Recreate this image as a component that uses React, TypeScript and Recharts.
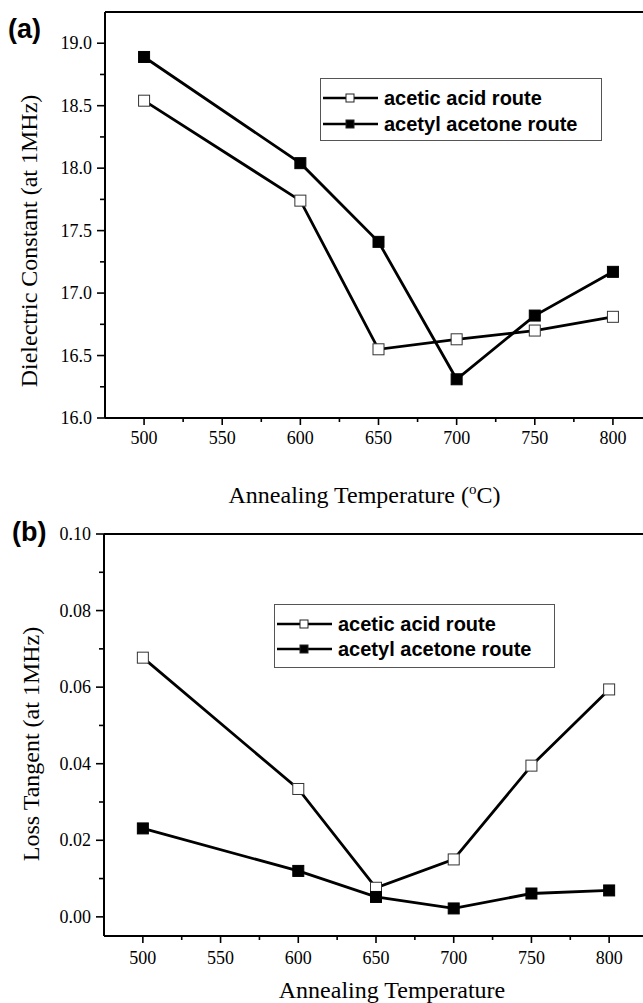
import React from 'react';
import { LineChart, Line, XAxis, YAxis, Legend, ReferenceLine } from 'recharts';

const temperatures = [500, 600, 650, 700, 750, 800];
const dielectricAceticAcid = [18.54, 17.74, 16.55, 16.63, 16.70, 16.81];
const dielectricAcetylAcetone = [18.89, 18.04, 17.41, 16.31, 16.82, 17.17];
const lossAceticAcid = [0.0677, 0.0334, 0.0076, 0.0150, 0.0395, 0.0594];
const lossAcetylAcetone = [0.0231, 0.0120, 0.0052, 0.0022, 0.0061, 0.0069];

const xTicks = [500, 525, 550, 575, 600, 625, 650, 675, 700, 725, 750, 775, 800];
const yTicksA = [16, 16.25, 16.5, 16.75, 17, 17.25, 17.5, 17.75, 18, 18.25, 18.5, 18.75, 19];
const yTicksB = [0, 0.01, 0.02, 0.03, 0.04, 0.05, 0.06, 0.07, 0.08, 0.09, 0.1];

const seriesNames = ['acetic acid route', 'acetyl acetone route'];

const dataA = temperatures.map((t, i) => ({ t, acetic: dielectricAceticAcid[i], acetyl: dielectricAcetylAcetone[i] }));
const dataB = temperatures.map((t, i) => ({ t, acetic: lossAceticAcid[i], acetyl: lossAcetylAcetone[i] }));

const SERIF = '"Liberation Serif", "Times New Roman", serif';
const SANS = '"Liberation Sans", Arial, sans-serif';

const makeXTick = (labelDy: number) => (props: any) => {
  const { x, y, payload } = props;
  const v = payload.value;
  const major = v % 50 === 0;
  return (
    <g>
      <line x1={x} x2={x} y1={y} y2={y + (major ? 7 : 4)} stroke="#000" strokeWidth={1.6} />
      {major && (
        <text
          x={x}
          y={y + labelDy}
          textAnchor="middle"
          dominantBaseline="central"
          fontFamily={SERIF}
          style={{ fontFamily: SERIF, fontSize: 18 }}
          fontSize={18}
          fill="#000"
        >
          {v}
        </text>
      )}
    </g>
  );
};

const makeYTick = (isMajor: (v: number) => boolean, digits: number) => (props: any) => {
  const { x, y, payload } = props;
  const v = payload.value;
  const major = isMajor(v);
  return (
    <g>
      <line x1={x - (major ? 8 : 5)} x2={x} y1={y} y2={y} stroke="#000" strokeWidth={1.6} />
      {major && (
        <text
          x={x - 13}
          y={y}
          textAnchor="end"
          dominantBaseline="central"
          fontFamily={SERIF}
          style={{ fontFamily: SERIF, fontSize: 18 }}
          fontSize={18}
          fill="#000"
        >
          {v.toFixed(digits)}
        </text>
      )}
    </g>
  );
};

const squareDot = (filled: boolean, size: number) => (props: any) => {
  const { cx, cy, index } = props;
  if (cx == null || cy == null) return <g key={`d${index}`} />;
  return (
    <rect
      key={`d${index}`}
      x={cx - size / 2}
      y={cy - size / 2}
      width={size}
      height={size}
      fill={filled ? '#000' : '#fff'}
      stroke={filled ? '#000' : '#333'}
      strokeWidth={1}
    />
  );
};

const LegendBox = ({ rowGap }: { rowGap: number }) => (
  <div
    style={{
      border: '1px solid #555',
      boxSizing: 'border-box',
      width: '100%',
      height: '100%',
      paddingTop: 6,
      background: '#fff',
    }}
  >
    {seriesNames.map((name, i) => (
      <div key={name} style={{ display: 'flex', alignItems: 'center', height: rowGap, marginLeft: 2 }}>
        <svg width={58} height={14} style={{ display: 'block' }}>
          <line x1={0} x2={55} y1={7} y2={7} stroke="#000" strokeWidth={2.6} />
          <rect x={23} y={3} width={8} height={8} fill={i === 0 ? '#fff' : '#000'} stroke="#222" strokeWidth={1} />
        </svg>
        <span style={{ fontFamily: SANS, fontWeight: 'bold', fontSize: 20, lineHeight: '20px', color: '#000', marginLeft: 3 }}>
          {name}
        </span>
      </div>
    ))}
  </div>
);

const yLabel = (text: string, dxFromAxis: number, dyFromCenter: number) => (p: any) => {
  const vb = p.viewBox || {};
  const axisX = (vb.x ?? 45) + (vb.width ?? 60);
  const cx = axisX - dxFromAxis;
  const cy = (vb.y ?? 0) + (vb.height ?? 0) / 2 + dyFromCenter;
  return (
    <text
      x={cx}
      y={cy}
      transform={`rotate(-90, ${cx}, ${cy})`}
      textAnchor="middle"
      dominantBaseline="central"
      fontFamily={SERIF}
      style={{ fontFamily: SERIF, fontSize: 24 }}
      fontSize={24}
      fill="#000"
    >
      {text}
    </text>
  );
};

const xLabel = (withUnit: boolean, dxFromCenter: number, baselineBelowAxis: number) => (p: any) => {
  const vb = p.viewBox || {};
  const cx = (vb.x ?? 0) + (vb.width ?? 0) / 2 + dxFromCenter;
  const y = (vb.y ?? 0) + baselineBelowAxis;
  return (
    <text x={cx} y={y} textAnchor="middle" fontFamily={SERIF} style={{ fontFamily: SERIF, fontSize: 24 }} fontSize={24} fill="#000">
      {withUnit ? (
        <>
          Annealing Temperature (
          <tspan dy={-9} fontSize={15}>o</tspan>
          <tspan dy={9}>C)</tspan>
        </>
      ) : (
        'Annealing Temperature'
      )}
    </text>
  );
};

export default function App() {
  return (
    <div style={{ position: 'absolute', left: 0, top: 0, width: 643, height: 1003, overflow: 'hidden', background: '#fff' }}>
      <div style={{ position: 'absolute', left: 8, top: 14, fontFamily: SANS, fontWeight: 'bold', fontSize: 27, lineHeight: '30px' }}>(a)</div>
      <div style={{ position: 'absolute', left: 12, top: 517, fontFamily: SANS, fontWeight: 'bold', fontSize: 27, lineHeight: '30px' }}>(b)</div>

      <div style={{ position: 'absolute', left: 0, top: 0 }}>
        <LineChart width={700} height={520} data={dataA} margin={{ top: 12, right: 48, bottom: 72, left: 45 }}>
          <XAxis
            dataKey="t"
            type="number"
            domain={[475, 825]}
            ticks={xTicks}
            interval={0}
            height={30}
            tickSize={0}
            tickMargin={0}
            tickLine={false}
            axisLine={{ stroke: '#000', strokeWidth: 2 }}
            tick={makeXTick(20)}
            label={xLabel(true, -14, 85)}
          />
          <YAxis
            type="number"
            domain={[16, 19.25]}
            ticks={yTicksA}
            interval={0}
            width={60}
            tickSize={0}
            tickMargin={0}
            tickLine={false}
            axisLine={{ stroke: '#000', strokeWidth: 2 }}
            tick={makeYTick((v) => Math.abs(v * 2 - Math.round(v * 2)) < 1e-6, 1)}
            label={yLabel('Dielectric Constant (at 1MHz)', 76, 26)}
          />
          <ReferenceLine y={19.25} stroke="#000" strokeWidth={2} />
          <Legend
            layout="horizontal"
            verticalAlign="middle"
            align="center"
            content={() => <LegendBox rowGap={26} />}
            wrapperStyle={{ left: 320, top: 78, width: 282, height: 63, margin: 0, padding: 0 }}
          />
          <Line type="linear" dataKey="acetic" name={seriesNames[0]} stroke="#000" strokeWidth={2.8} dot={squareDot(false, 11)} isAnimationActive={false} />
          <Line type="linear" dataKey="acetyl" name={seriesNames[1]} stroke="#000" strokeWidth={2.8} dot={squareDot(true, 11)} isAnimationActive={false} />
        </LineChart>
      </div>

      <div style={{ position: 'absolute', left: 0, top: 460 }}>
        <LineChart width={700} height={543} data={dataB} margin={{ top: 74, right: 52, bottom: 37, left: 44 }}>
          <XAxis
            dataKey="t"
            type="number"
            domain={[475, 825]}
            ticks={xTicks}
            interval={0}
            height={30}
            tickSize={0}
            tickMargin={0}
            tickLine={false}
            axisLine={{ stroke: '#000', strokeWidth: 2 }}
            tick={makeXTick(22)}
            label={xLabel(false, 16, 62)}
          />
          <YAxis
            type="number"
            domain={[-0.005, 0.1]}
            ticks={yTicksB}
            interval={0}
            width={60}
            tickSize={0}
            tickMargin={0}
            tickLine={false}
            axisLine={{ stroke: '#000', strokeWidth: 2 }}
            tick={makeYTick((v) => Math.abs(v * 50 - Math.round(v * 50)) < 1e-6, 2)}
            label={yLabel('Loss Tangent (at 1MHz)', 73, 9)}
          />
          <ReferenceLine y={0.1} stroke="#000" strokeWidth={2} />
          <Legend
            layout="horizontal"
            verticalAlign="middle"
            align="center"
            content={() => <LegendBox rowGap={25.5} />}
            wrapperStyle={{ left: 274, top: 144, width: 281, height: 64, margin: 0, padding: 0 }}
          />
          <Line type="linear" dataKey="acetic" name={seriesNames[0]} stroke="#000" strokeWidth={2.8} dot={squareDot(false, 11)} isAnimationActive={false} />
          <Line type="linear" dataKey="acetyl" name={seriesNames[1]} stroke="#000" strokeWidth={2.8} dot={squareDot(true, 11)} isAnimationActive={false} />
        </LineChart>
      </div>
    </div>
  );
}
